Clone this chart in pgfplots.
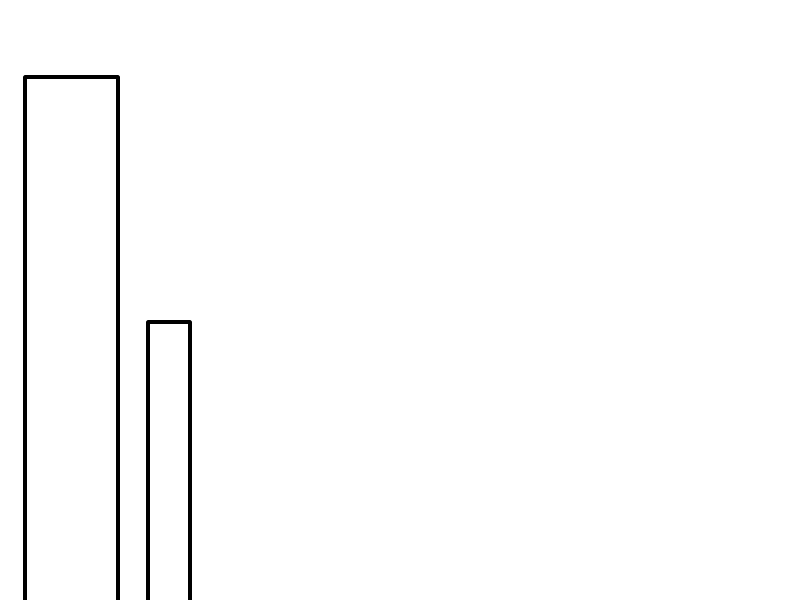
\documentclass[border=0pt]{standalone}
\usepackage{pgfplots}
\pgfplotsset{compat=1.18}

\begin{document}
\begin{tikzpicture}
	\begin{axis}[
			name=ax,
			hide axis,
			scale only axis,
			width=8in,
			height=6in,
			xmin=0, xmax=800,
			ymin=0, ymax=600,
			y dir=reverse,
			clip=true,
		]
		% open-bottom bars, pixel positions
		\addplot[black, line width=2.2pt, line join=round, mark=none] coordinates {
			(25,620) (25,77) (118,77) (118,620)
		};
		\addplot[black, line width=2.2pt, line join=round, mark=none] coordinates {
			(148,620) (148,322) (190,322) (190,620)
		};
	\end{axis}
	\pgfresetboundingbox
	\useasboundingbox (ax.south west) rectangle (ax.north east);
\end{tikzpicture}
\end{document}
